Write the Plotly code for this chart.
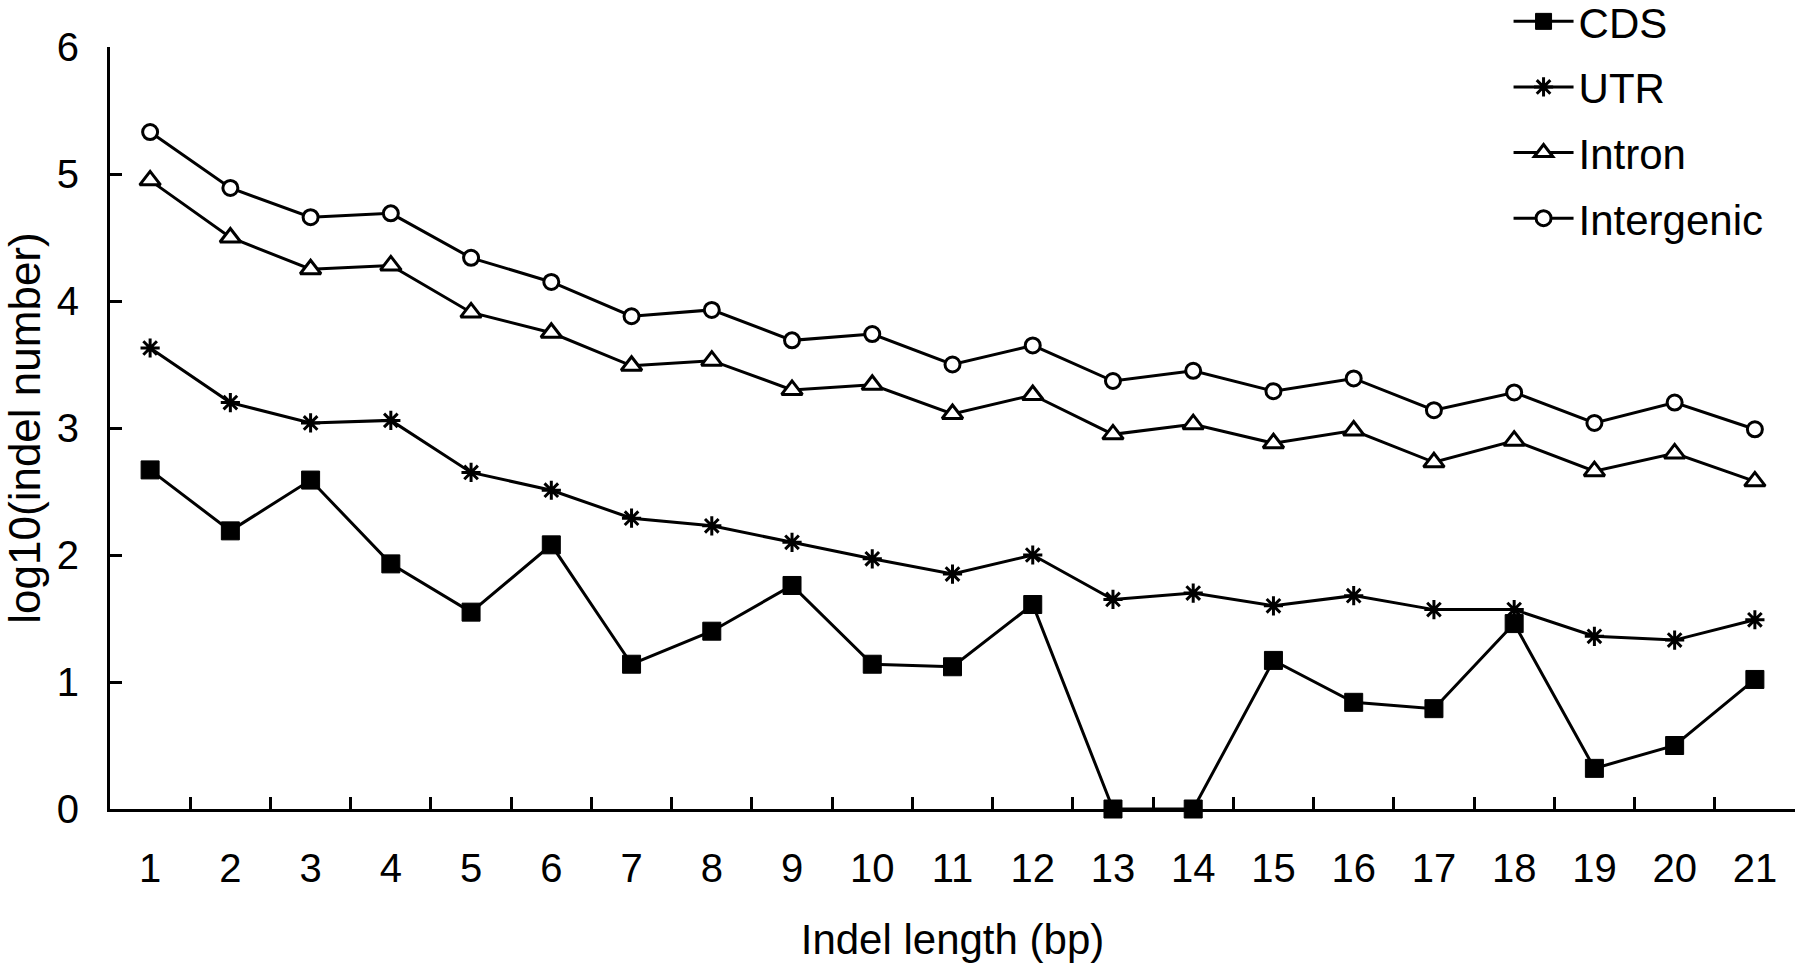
import plotly.graph_objects as go

indel_length = [str(i) for i in range(1, 22)]

cds = [2.67, 2.19, 2.59, 1.93, 1.55, 2.08, 1.14, 1.40, 1.76, 1.14, 1.12,
       1.61, 0.0, 0.0, 1.17, 0.84, 0.79, 1.46, 0.32, 0.50, 1.02]
utr = [3.63, 3.20, 3.04, 3.06, 2.65, 2.51, 2.29, 2.23, 2.10, 1.97, 1.85,
       2.00, 1.65, 1.70, 1.60, 1.68, 1.57, 1.57, 1.36, 1.33, 1.49]
intron = [4.95, 4.50, 4.25, 4.28, 3.91, 3.75, 3.49, 3.53, 3.30, 3.34, 3.11,
          3.26, 2.95, 3.03, 2.88, 2.98, 2.73, 2.90, 2.66, 2.80, 2.58]
intergenic = [5.33, 4.89, 4.66, 4.69, 4.34, 4.15, 3.88, 3.93, 3.69, 3.74, 3.50,
              3.65, 3.37, 3.45, 3.29, 3.39, 3.14, 3.28, 3.04, 3.20, 2.99]

y_ticks = [0, 1, 2, 3, 4, 5, 6]

FONT = "Liberation Sans, Arial, sans-serif"

series = [
    ("CDS", cds, dict(symbol="square", size=18, color="black",
                      line=dict(color="black", width=1))),
    ("UTR", utr, dict(symbol="asterisk-open", size=16,
                      line=dict(color="black", width=3), color="black")),
    ("Intron", intron, dict(symbol="triangle-up", size=18, color="white",
                            line=dict(color="black", width=3))),
    ("Intergenic", intergenic, dict(symbol="circle", size=15, color="white",
                                    line=dict(color="black", width=3))),
]

fig = go.Figure()
for name, vals, mk in series:
    fig.add_trace(go.Scatter(
        x=indel_length, y=vals, name=name, mode="lines+markers",
        line=dict(color="black", width=3), marker=mk,
        cliponaxis=False, legendgroup=name,
    ))

fig.update_layout(
    width=1800, height=966,
    paper_bgcolor="white", plot_bgcolor="white",
    margin=dict(l=110, r=5, t=47, b=157, autoexpand=False),
    font=dict(family=FONT, size=40, color="black"),
    showlegend=True,
    legend=dict(x=0.830, y=1.078, xanchor="left", yanchor="top",
                font=dict(size=42), tracegroupgap=8,
                bgcolor="rgba(0,0,0,0)", itemwidth=60),
    xaxis=dict(
        type="category", tickson="boundaries", ticks="inside",
        range=[-0.5, 20.5], automargin=False,
        ticklen=12, tickwidth=3, tickcolor="black",
        showline=True, linecolor="black", linewidth=3,
        showgrid=False, zeroline=False, ticklabelstandoff=22,
        tickfont=dict(size=40),
        title=dict(text="Indel length (bp)", font=dict(size=42), standoff=36),
    ),
    yaxis=dict(
        range=[0, 6], tickvals=y_ticks, ticks="inside", automargin=False,
        ticklen=12, tickwidth=3, tickcolor="black",
        showline=True, linecolor="black", linewidth=3,
        showgrid=False, zeroline=False, ticklabelstandoff=20,
        tickfont=dict(size=40),
        title=dict(text="log10(indel number)", font=dict(size=44), standoff=28),
    ),
)

fig.write_html("out.html")
